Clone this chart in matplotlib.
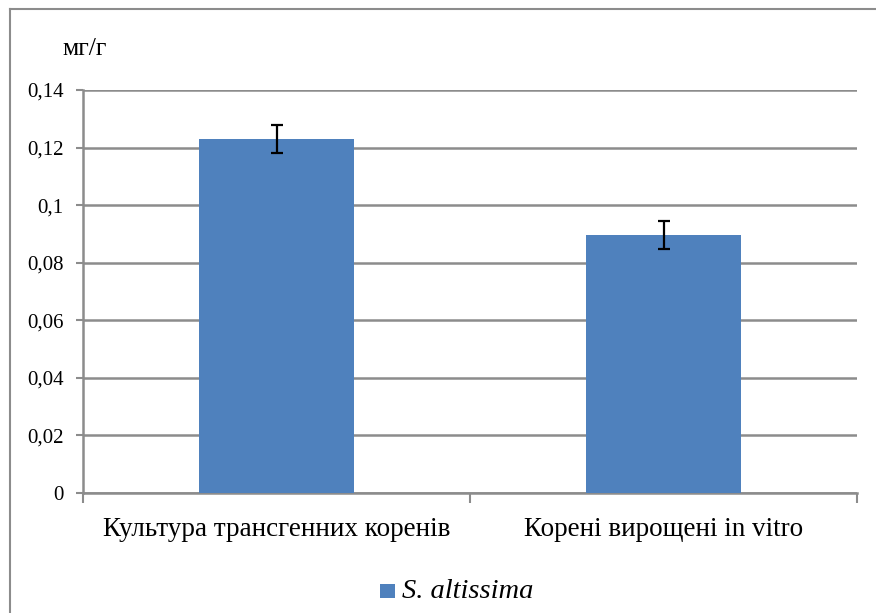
import matplotlib
matplotlib.use("Agg")
import matplotlib.pyplot as plt
from matplotlib.lines import Line2D
from matplotlib.patches import Rectangle
from matplotlib.ticker import FuncFormatter

categories = ["Культура трансгенних коренів", "Корені вирощені in vitro"]
values = [0.1230, 0.0896]
errors = [0.0049, 0.0048]
series_name = "S. altissima"
yticks = [0, 0.02, 0.04, 0.06, 0.08, 0.1, 0.12, 0.14]
unit = "мг/г"

plt.rcParams['font.family'] = ['Liberation Serif', 'DejaVu Serif']

W, H = 876, 613
fig = plt.figure(figsize=(W/100, H/100), dpi=100)
ax = fig.add_axes([83/W, 1-493/H, (857-83)/W, (493-90)/H])

color = '#4F81BD'
x = list(range(len(categories)))
ax.bar(x, values, width=0.4, color=color, zorder=3)
ax.errorbar(x, values, yerr=errors, fmt='none', ecolor='black', elinewidth=1.6,
            capsize=4.5, capthick=1.6, zorder=4)

ax.set_xlim(-0.5, 1.5)
ax.set_ylim(0, 0.14)
ax.set_yticks(yticks)
ax.yaxis.set_major_formatter(FuncFormatter(lambda v, p: ('%g' % round(v, 2)).replace('.', ',')))
ax.yaxis.grid(True, color='#8c8c8c', linewidth=1.8, zorder=0)
ax.set_axisbelow(True)

ax.set_xticks(x)
ax.set_xticklabels(categories, fontsize=19.5)
ax.tick_params(axis='x', length=0, pad=17)
ax.set_xticks([-0.5, 0.5, 1.5], minor=True)
ax.tick_params(axis='x', which='minor', length=7, color='#8c8c8c', width=1.5, direction='out')
ax.tick_params(axis='y', length=5, color='#8c8c8c', width=1.5, labelsize=15, pad=9)

for s in ['top', 'right']:
    ax.spines[s].set_visible(False)
for s in ['left', 'bottom']:
    ax.spines[s].set_color('#8c8c8c')
    ax.spines[s].set_linewidth(1.8)

fig.text(62/W, 1-49/H, unit, fontsize=18.5, va='center', ha='left')

# legend
fig.patches.append(Rectangle((380/W, 1-598/H), 15/W, 14/H, transform=fig.transFigure,
                             facecolor=color, edgecolor='none'))
fig.text(402/W, 1-591/H, series_name, fontsize=20.5, style='italic', va='center', ha='left')

# chart border
fig.add_artist(Line2D([10/W, 10/W], [0, 1-9/H], color='#8c8c8c', linewidth=1.5))
fig.add_artist(Line2D([10/W, 1], [1-9/H, 1-9/H], color='#8c8c8c', linewidth=1.5))

fig.savefig("out.png", dpi=100)
